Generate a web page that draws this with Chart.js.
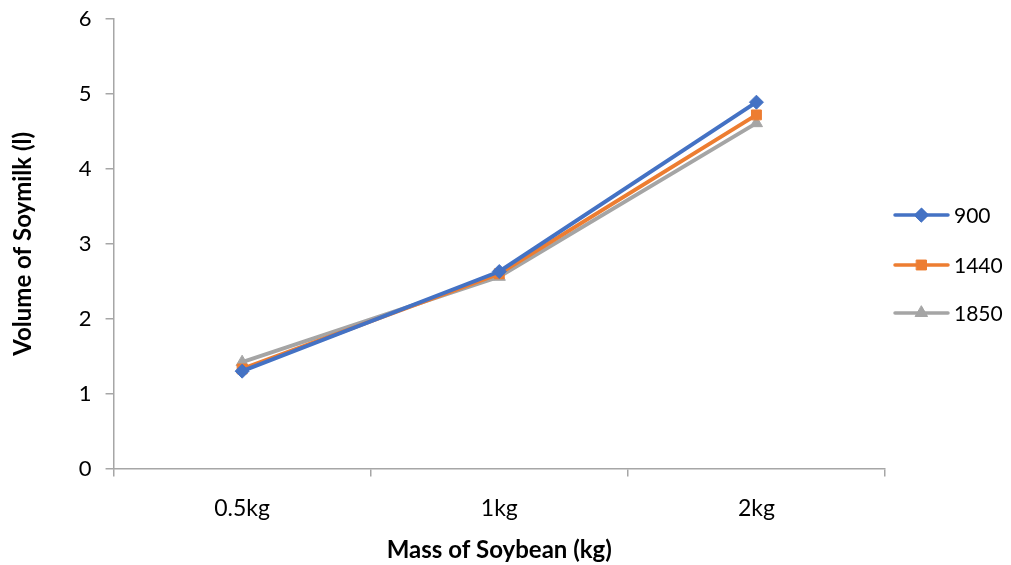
<!DOCTYPE html>
<html>
<head>
<meta charset="utf-8">
<script src="https://cdn.jsdelivr.net/npm/chart.js@4.4.1/dist/chart.umd.min.js"></script>
<style>
html,body{margin:0;padding:0;background:#fff;}
#wrap{width:1011px;height:565px;}
</style>
</head>
<body>
<div id="wrap"><canvas id="c" width="1011" height="565"></canvas></div>
<script>
const categories = ["0.5kg", "1kg", "2kg"];
const seriesNames = ["900", "1440", "1850"];
const series900 = [1.30, 2.63, 4.89];
const series1440 = [1.33, 2.60, 4.72];
const series1850 = [1.42, 2.56, 4.61];
const yTicks = [0, 1, 2, 3, 4, 5, 6];

const colors = ["#4472C4", "#ED7D31", "#A5A5A5"];
const markers = ["rectRot", "rect", "triangle"];
const markerRadius = [7, 7, 7];
const FONT = "Lato, 'Liberation Sans', sans-serif";

const legendPlugin = {
  id: "customLegend",
  afterDraw(chart) {
    const ctx = chart.ctx;
    const x0 = 895, x1 = 948, tx = 954;
    const ys = [215, 265, 313];
    chart.data.datasets.forEach((ds, i) => {
      const y = ys[i];
      ctx.save();
      ctx.strokeStyle = ds.borderColor;
      ctx.lineWidth = 3.5;
      ctx.lineCap = "round";
      ctx.beginPath();
      ctx.moveTo(x0, y);
      ctx.lineTo(x1, y);
      ctx.stroke();
      ctx.fillStyle = ds.borderColor;
      ctx.strokeStyle = ds.borderColor;
      ctx.lineWidth = 1;
      Chart.helpers.drawPoint(ctx, {
        pointStyle: ds.pointStyle,
        radius: ds.pointRadius,
        rotation: 0,
        borderWidth: 1
      }, (x0 + x1) / 2, y);
      ctx.fill();
      ctx.fillStyle = "#000";
      ctx.font = "21px " + FONT;
      ctx.textBaseline = "middle";
      ctx.textAlign = "left";
      ctx.fillText(ds.label, tx, y + 1);
      ctx.restore();
    });
  }
};

const allSeries = [series900, series1440, series1850];
const datasets = allSeries.map((vals, i) => ({
  label: seriesNames[i],
  data: vals,
  borderColor: colors[i],
  backgroundColor: colors[i],
  borderWidth: 4,
  pointStyle: markers[i],
  pointRadius: markerRadius[i],
  pointHoverRadius: markerRadius[i],
  pointBorderWidth: 1,
  tension: 0,
  fill: false
}));

new Chart(document.getElementById("c"), {
  type: "line",
  data: { labels: categories, datasets: datasets },
  plugins: [legendPlugin],
  options: {
    responsive: false,
    devicePixelRatio: 1,
    animation: false,
    layout: { padding: { left: 9, right: 126, top: 19, bottom: 0 } },
    plugins: {
      legend: { display: false },
      tooltip: { enabled: false }
    },
    scales: {
      x: {
        type: "category",
        offset: true,
        afterFit(scale) { scale.paddingLeft = 0; scale.paddingRight = 0; },
        grid: {
          offset: true,
          drawOnChartArea: false,
          drawTicks: true,
          tickLength: 8,
          color: "#A6A6A6",
          lineWidth: 1.5
        },
        border: { color: "#A6A6A6", width: 1.5 },
        ticks: {
          color: "#000",
          font: { family: FONT, size: 23 },
          padding: 18
        },
        title: {
          display: true,
          text: "Mass of Soybean (kg)",
          color: "#000",
          font: { family: FONT, size: 24, weight: "bold" },
          padding: { top: -4, bottom: 0 }
        }
      },
      y: {
        min: 0,
        max: 6,
        afterBuildTicks(scale) {
          scale.ticks = yTicks.map(v => ({ value: v }));
        },
        afterFit(scale) { scale.paddingTop = 0; scale.paddingBottom = 0; },
        grid: {
          drawOnChartArea: false,
          drawTicks: true,
          tickLength: 8,
          color: "#A6A6A6",
          lineWidth: 1.5
        },
        border: { color: "#A6A6A6", width: 1.5 },
        ticks: {
          color: "#000",
          font: { family: FONT, size: 22 },
          padding: 14
        },
        title: {
          display: true,
          text: "Volume of Soymilk (l)",
          color: "#000",
          font: { family: FONT, size: 24, weight: "bold" },
          padding: { top: 0, bottom: 27 }
        }
      }
    }
  }
});
</script>
</body>
</html>
